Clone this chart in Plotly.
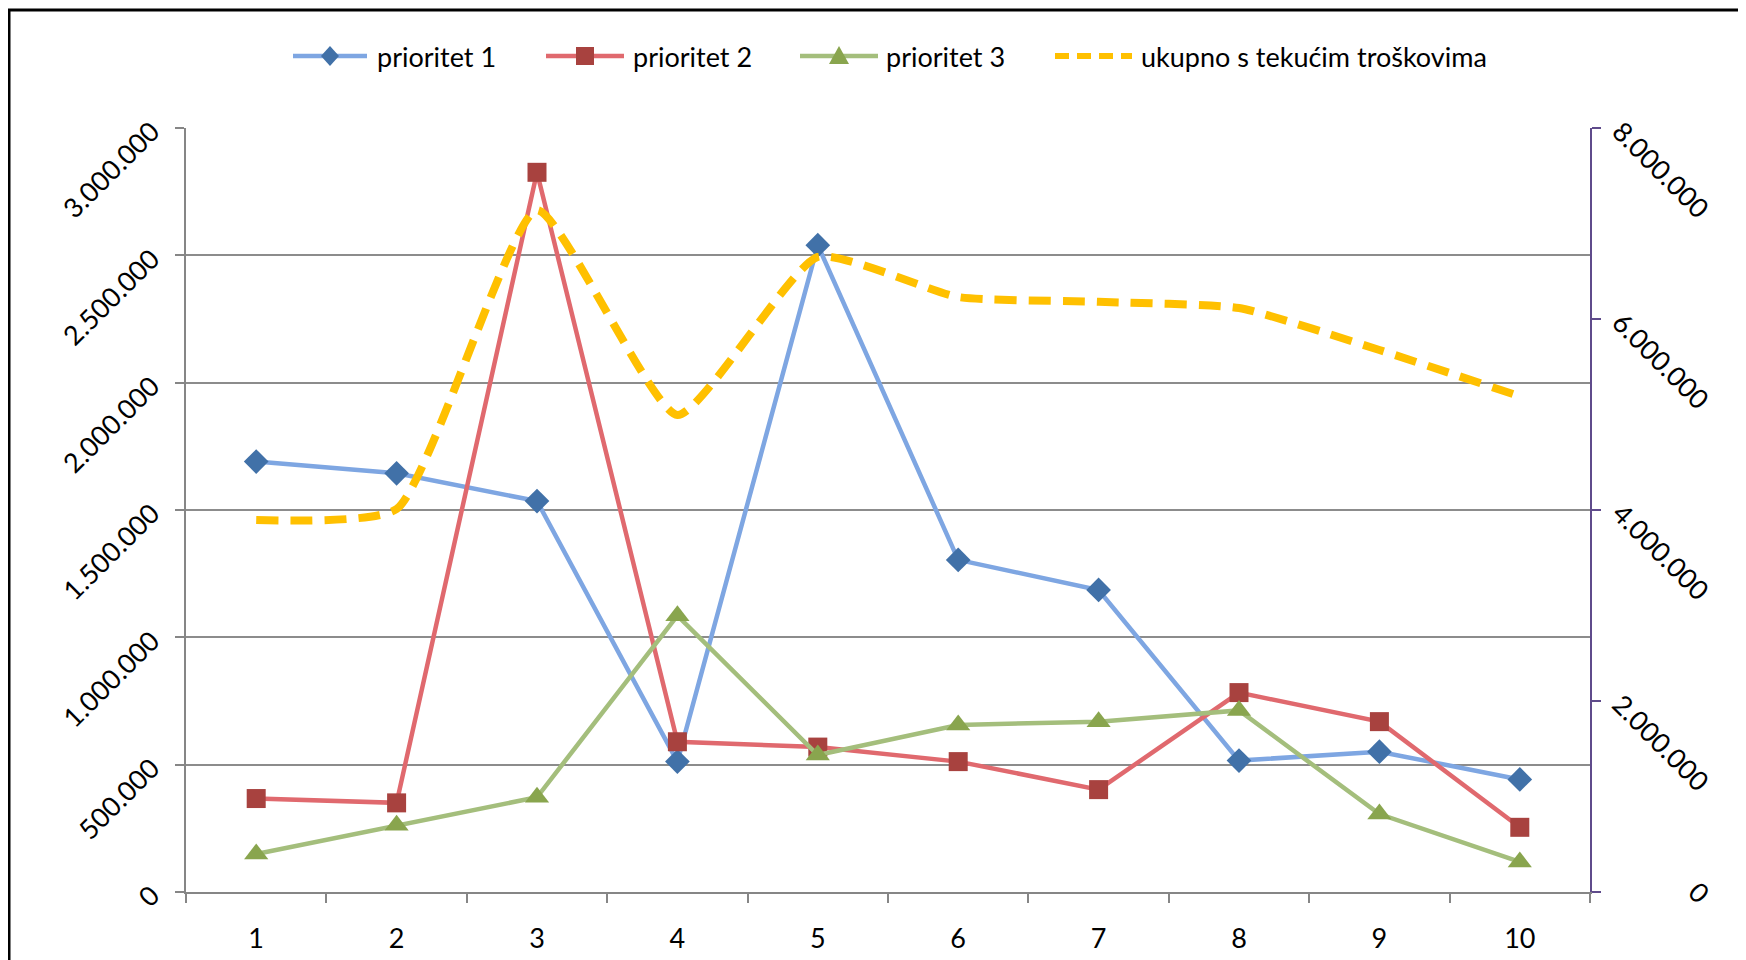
import plotly.graph_objects as go

categories = ["1", "2", "3", "4", "5", "6", "7", "8", "9", "10"]
prioritet_1 = [1690000, 1644000, 1535000, 512000, 2540000, 1304000, 1186000, 516000, 551000, 442000]
prioritet_2 = [367000, 350000, 2826000, 590000, 569000, 512000, 402000, 783000, 669000, 254000]
prioritet_3 = [149000, 262000, 372000, 1085000, 538000, 656000, 669000, 713000, 306000, 118000]
ukupno = [3895000, 4010000, 7140000, 4995000, 6650000, 6230000, 6180000, 6115000, 5675000, 5190000]

left_ticks = [0, 500000, 1000000, 1500000, 2000000, 2500000, 3000000]
right_ticks = [0, 2000000, 4000000, 6000000, 8000000]
right_ticktext = ["", "2.000.000", "4.000.000", "6.000.000", "8.000.000"]

names = ["prioritet 1", "prioritet 2", "prioritet 3", "ukupno s tekućim troškovima"]

W, H = 1746, 960
OFF = 8  # page body offset
L, R, T, B = 186, 1590, 128, 892
FONT = "Lato"
FS = 27

BLUE_L, BLUE_M = "#7EA6E2", "#4171A8"
RED_L, RED_M = "#E0696E", "#A8423F"
GREEN_L, GREEN_M = "#A4BE7C", "#89A54E"
YELLOW = "#FFC000"


def fx(p):
    return (p - L) / (R - L)


def fy(p):
    return (B - p) / (B - T)


fig = go.Figure()
fig.add_trace(go.Scatter(x=categories, y=prioritet_1, name=names[0], mode="lines+markers",
                         line=dict(color=BLUE_L, width=4.5),
                         marker=dict(symbol="diamond", size=19, color=BLUE_M)))
fig.add_trace(go.Scatter(x=categories, y=prioritet_2, name=names[1], mode="lines+markers",
                         line=dict(color=RED_L, width=4.5),
                         marker=dict(symbol="square", size=19, color=RED_M)))
fig.add_trace(go.Scatter(x=categories, y=prioritet_3, name=names[2], mode="lines+markers",
                         line=dict(color=GREEN_L, width=4.5),
                         marker=dict(symbol="triangle-up", size=21, color=GREEN_M)))
fig.add_trace(go.Scatter(x=categories, y=ukupno, name=names[3], mode="lines", yaxis="y2",
                         line=dict(color=YELLOW, width=8, dash="22px,12px", shape="spline", smoothing=0.5)))

shapes = []
annotations = []

# chart frame (left and top edges)
shapes.append(dict(type="line", xref="paper", yref="paper", x0=fx(9), x1=fx(9), y0=fy(975), y1=fy(10),
                   line=dict(color="black", width=3)))
shapes.append(dict(type="line", xref="paper", yref="paper", x0=fx(8), x1=fx(1760), y0=fy(10), y1=fy(10),
                   line=dict(color="black", width=3)))

LY = 56


def path(points):
    return "M " + " L ".join(f"{fx(a):.5f},{fy(b):.5f}" for a, b in points) + " Z"


legend_items = [
    (293, 367, 330, 375, BLUE_L, BLUE_M, "diamond"),
    (546, 624, 585, 631, RED_L, RED_M, "square"),
    (800, 878, 839, 884, GREEN_L, GREEN_M, "triangle"),
    (1055, 1132, None, 1139, YELLOW, None, "dash"),
]
for i, (x0, x1, mx, tx, lc, mc, kind) in enumerate(legend_items):
    if kind == "dash":
        shapes.append(dict(type="line", xref="paper", yref="paper", x0=fx(x0), x1=fx(x1), y0=fy(LY), y1=fy(LY),
                           line=dict(color=lc, width=6, dash="14px,8px")))
    else:
        shapes.append(dict(type="line", xref="paper", yref="paper", x0=fx(x0), x1=fx(x1), y0=fy(LY), y1=fy(LY),
                           line=dict(color=lc, width=4.5)))
        if kind == "diamond":
            pts = [(mx, LY - 10), (mx + 9, LY), (mx, LY + 10), (mx - 9, LY)]
        elif kind == "square":
            pts = [(mx - 9, LY - 9), (mx + 9, LY - 9), (mx + 9, LY + 9), (mx - 9, LY + 9)]
        else:
            pts = [(mx, LY - 10), (mx + 10, LY + 8), (mx - 10, LY + 8)]
        shapes.append(dict(type="path", xref="paper", yref="paper", path=path(pts),
                           fillcolor=mc, line=dict(width=0)))
    annotations.append(dict(xref="paper", yref="paper", x=fx(tx), y=fy(LY), xanchor="left", yanchor="middle",
                            text=names[i], showarrow=False, font=dict(family=FONT, size=FS, color="black")))

# right-axis "0" label, right-aligned with the other rotated labels (as in the original)
annotations.append(dict(xref="paper", yref="y2", x=fx(1700), y=right_ticks[0], xanchor="center",
                        yanchor="middle", text="0", textangle=45, showarrow=False,
                        font=dict(family=FONT, size=FS, color="black")))

fig.update_layout(
    width=W, height=H,
    margin=dict(l=L - OFF, r=W - (R - OFF), t=T - OFF, b=H - (B - OFF), pad=0),
    paper_bgcolor="white", plot_bgcolor="white",
    showlegend=False,
    separators=",.",
    font=dict(family=FONT, size=FS, color="black"),
    shapes=shapes,
    annotations=annotations,
    xaxis=dict(type="category", categoryorder="array", categoryarray=categories,
               range=[-0.5, len(categories) - 0.5], autorange=False,
               showline=True, linecolor="#868686", linewidth=1.5,
               ticks="outside", tickson="boundaries", ticklen=9, tickcolor="#868686", tickwidth=1.5,
               showgrid=False, tickfont=dict(family=FONT, size=FS, color="black"),
               ticklabelstandoff=22),
    yaxis=dict(range=[0, 3000000], tickvals=left_ticks, tickformat=",d",
               showline=True, linecolor="#868686", linewidth=1.5,
               ticks="outside", ticklen=9, tickcolor="#868686", tickwidth=1.5,
               showgrid=True, gridcolor="#8C8C8C", gridwidth=1.5, zeroline=False,
               tickangle=-45, tickfont=dict(family=FONT, size=FS, color="black"),
               ticklabelstandoff=18),
    yaxis2=dict(range=[0, 8000000], tickvals=right_ticks, ticktext=right_ticktext, overlaying="y", side="right",
                showline=True, linecolor="#5F4B8B", linewidth=1.5,
                ticks="outside", ticklen=9, tickcolor="#5F4B8B", tickwidth=1.5,
                showgrid=False, zeroline=False,
                tickangle=45, tickfont=dict(family=FONT, size=FS, color="black"),
                ticklabelstandoff=14),
)

fig.write_html("out.html")
